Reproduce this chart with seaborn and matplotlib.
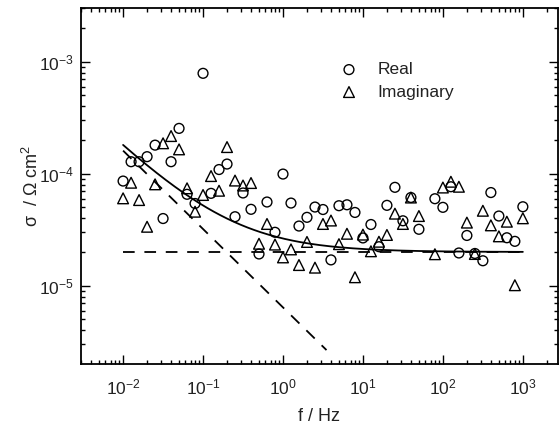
import numpy as np
import pandas as pd
import matplotlib
matplotlib.use("Agg")
import matplotlib.pyplot as plt
import seaborn as sns

# ---- data ----
# frequency index k -> f = 10**(-2 + 0.1 k); k = 38 absent in both series
k_idx = [i for i in range(51) if i != 38]

real_vals = [8.6e-5, 1.28e-4, 1.28e-4, 1.42e-4, 1.80e-4, 3.98e-5, 1.28e-4, 2.54e-4,
             6.55e-5, 5.42e-5, 7.88e-4, 6.68e-5, 1.09e-4, 1.22e-4, 4.13e-5, 6.73e-5,
             4.81e-5, 1.92e-5, 5.59e-5, 3.0e-5, 9.93e-5, 5.47e-5, 3.41e-5, 4.08e-5,
             5.04e-5, 4.79e-5, 1.70e-5, 5.18e-5, 5.28e-5, 4.51e-5, 2.67e-5, 3.52e-5,
             2.23e-5, 5.22e-5, 7.56e-5, 3.80e-5, 6.13e-5, 3.19e-5,
             5.98e-5, 5.01e-5, 7.65e-5, 1.96e-5, 2.81e-5, 1.94e-5, 1.67e-5, 6.79e-5,
             4.19e-5, 2.68e-5, 2.49e-5, 5.07e-5]

imag_vals = [6.03e-5, 8.31e-5, 5.82e-5, 3.36e-5, 8.04e-5, 1.87e-4, 2.17e-4, 1.65e-4,
             7.41e-5, 4.58e-5, 6.46e-5, 9.53e-5, 7.05e-5, 1.73e-4, 8.69e-5, 7.85e-5,
             8.26e-5, 2.37e-5, 3.56e-5, 2.33e-5, 1.79e-5, 2.11e-5, 1.53e-5, 2.46e-5,
             1.45e-5, 3.56e-5, 3.82e-5, 2.35e-5, 2.91e-5, 1.19e-5, 2.86e-5, 2.03e-5,
             2.47e-5, 2.84e-5, 4.40e-5, 3.56e-5, 6.13e-5, 4.19e-5,
             1.91e-5, 7.53e-5, 8.48e-5, 7.65e-5, 3.66e-5, 1.92e-5, 4.67e-5, 3.46e-5,
             2.76e-5, 3.73e-5, 1.01e-5, 4.0e-5]

freq = [10 ** (-2 + 0.1 * k) for k in k_idx]

# model lines: sigma = sigma_inf + A * f**(-n)
sigma_inf = 2e-5
A_coef = 6.4e-6
n_exp = 0.7
f_line_range = (1e-2, 1e3)
f_dash_range = (1e-2, 3.5)

series_labels = ["Real", "Imaginary"]
x_label = "f / Hz"
y_label = "σ  / Ω cm$^2$"

# ---- style ----
sns.set_theme(style="ticks")
plt.rcParams["font.family"] = ["Liberation Sans", "DejaVu Sans"]
plt.rcParams["mathtext.fontset"] = "custom"
plt.rcParams["mathtext.rm"] = "Liberation Sans"
plt.rcParams["mathtext.it"] = "Liberation Sans:italic"
plt.rcParams["mathtext.bf"] = "Liberation Sans:bold"

text_col = "#222222"

fig = plt.figure(figsize=(5.6, 4.28), dpi=100)
ax = fig.add_axes([0.1441, 0.1507, 0.8523, 0.8299])

df = pd.DataFrame({"f": freq, "real": real_vals, "imag": imag_vals})

sns.scatterplot(data=df, x="f", y="real", marker="o", s=50, facecolor="none",
                edgecolor="black", linewidth=1.0, ax=ax, label=series_labels[0], zorder=3)
sns.scatterplot(data=df, x="f", y="imag", marker="^", s=60, facecolor="none",
                edgecolor="black", linewidth=1.0, ax=ax, label=series_labels[1], zorder=3)

f_full = np.logspace(np.log10(f_line_range[0]), np.log10(f_line_range[1]), 300)
f_dash = np.logspace(np.log10(f_dash_range[0]), np.log10(f_dash_range[1]), 100)
lines = pd.DataFrame({"f": f_full, "fit": sigma_inf + A_coef * f_full ** (-n_exp),
                      "base": np.full_like(f_full, sigma_inf)})
dline = pd.DataFrame({"f": f_dash, "pw": A_coef * f_dash ** (-n_exp)})

lw = 1.3
dash = (0, (8.4 / lw, 7.0 / lw))
sns.lineplot(data=lines, x="f", y="fit", color="black", lw=lw, ax=ax, legend=False)
sns.lineplot(data=lines, x="f", y="base", color="black", lw=lw, ax=ax, legend=False,
             linestyle=dash)
sns.lineplot(data=dline, x="f", y="pw", color="black", lw=lw, ax=ax, legend=False,
             linestyle=dash)

ax.set_xscale("log")
ax.set_yscale("log")
ax.set_xlim(2.95e-3, 2.75e3)
ax.set_ylim(2.02e-6, 3.0e-3)

ax.set_xlabel(x_label, fontsize=13, labelpad=8, color=text_col)
ax.set_ylabel(y_label, fontsize=13, labelpad=-2, color=text_col)

for s in ax.spines.values():
    s.set_linewidth(1.3)
    s.set_color("black")
ax.tick_params(which="both", direction="in", top=True, right=True, colors="black",
               width=1.0, labelcolor=text_col)
ax.tick_params(which="major", length=6.5, labelsize=12.5)
ax.tick_params(axis="x", which="major", pad=10)
ax.tick_params(axis="y", which="major", pad=5)
ax.tick_params(which="minor", length=3)
ax.xaxis.set_minor_locator(matplotlib.ticker.LogLocator(base=10, subs=np.arange(2, 10), numticks=20))
ax.yaxis.set_minor_locator(matplotlib.ticker.LogLocator(base=10, subs=np.arange(2, 10), numticks=20))
ax.xaxis.set_major_locator(matplotlib.ticker.LogLocator(base=10, numticks=20))

leg = ax.legend(loc="upper left", bbox_to_anchor=(340.3 / 560, 1 - 62 / 428),
                bbox_transform=fig.transFigure, frameon=False, fontsize=12.5,
                handlelength=1.0, handletextpad=1.15, borderpad=0, borderaxespad=0,
                labelspacing=0.42)
for t in leg.get_texts():
    t.set_color(text_col)

fig.savefig("out.png", dpi=100)
